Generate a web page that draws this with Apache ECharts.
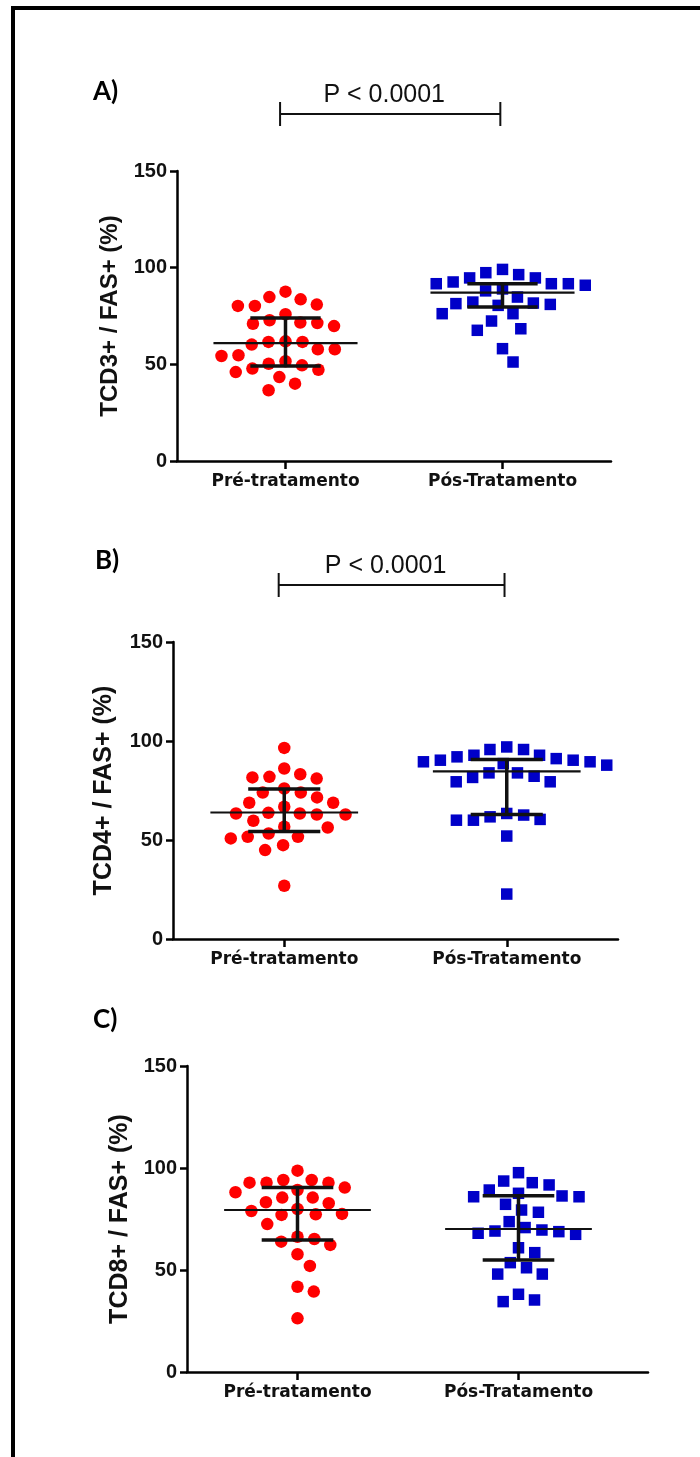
<!DOCTYPE html>
<html>
<head>
<meta charset="utf-8">
<script src="https://cdn.jsdelivr.net/npm/echarts@6/dist/echarts.min.js"></script>
<style>
  html, body { margin: 0; padding: 0; background: #fff; }
  #main { width: 700px; height: 1457px; }
</style>
</head>
<body>
<div id="main"></div>
<script>
// categorias e textos
const groupLabels = ['Pré-tratamento', 'Pós-Tratamento'];
const yTicks = [0, 50, 100, 150];
const yNames = ['TCD3+ / FAS+ (%)', 'TCD4+ / FAS+ (%)', 'TCD8+ / FAS+ (%)'];
const panelLetters = ['A)', 'B)', 'C)'];
const pValues = ['P < 0.0001', 'P < 0.0001', null];

// valores (%)
const preA = [84.8, 80.9, 80.2, 80.2, 83.6, 87.6, 75.9, 71.4, 71.0, 69.8, 71.6, 72.8, 61.6, 60.2, 57.8,
  57.8, 61.6, 61.9, 54.3, 50.3, 47.8, 43.4, 46.0, 47.2, 49.5, 51.6, 54.7, 36.6, 40.0];
const postA = [94.7, 91.7, 90.9, 99.1, 96.4, 97.4, 91.7, 91.7, 92.6, 94.7, 81.7, 81.0, 76.2, 76.2, 68.4,
  67.6, 72.4, 81.4, 82.2, 58.1, 51.2, 84.8, 80.5, 89.0, 88.0];
const preB = [96.5, 86.1, 83.2, 81.6, 81.0, 81.9, 74.0, 71.5, 68.8, 76.0, 66.8, 68.8, 74.0, 62.9, 59.7,
  63.4, 62.9, 63.4, 63.7, 53.3, 51.6, 56.3, 56.7, 50.8, 51.6, 47.4, 44.9, 26.9];
const postB = [95.7, 92.8, 91.1, 90.3, 89.5, 88.6, 89.5, 90.3, 92.0, 92.8, 95.7, 97.0, 87.8, 83.9, 82.2,
  79.4, 79.4, 81.6, 83.9, 62.6, 60.4, 60.0, 61.7, 60.0, 63.4, 52.0, 22.7];
const preC = [89.2, 94.1, 85.5, 92.8, 92.8, 92.8, 94.1, 98.7, 90.4, 88.1, 85.5, 82.7, 83.2, 78.9, 77.3,
  77.0, 77.5, 79.9, 72.5, 66.3, 63.9, 62.3, 65.2, 57.7, 52.0, 41.8, 39.4, 26.3];
const postC = [87.6, 85.9, 93.6, 91.7, 97.7, 89.2, 92.8, 85.9, 86.3, 82.2, 78.3, 79.4, 70.8, 69.1, 68.0,
  67.5, 68.8, 69.6, 73.7, 58.5, 60.9, 53.6, 51.1, 48.0, 48.0, 38.1, 34.5, 35.3];

// mediana e intervalo interquartil [pré, pós]
const medianA = [61.0, 87.1], q1A = [49.1, 79.7], q3A = [74.0, 91.7];
const medianB = [63.9, 84.7], q1B = [54.3, 62.9], q3B = [75.7, 90.6];
const medianC = [79.4, 70.1], q1C = [64.7, 54.9], q3C = [90.5, 86.4];

const panels = [
  { pre: preA, post: postA, med: medianA, q1: q1A, q3: q3A },
  { pre: preB, post: postB, med: medianB, q1: q1B, q3: q3B },
  { pre: preC, post: postC, med: medianC, q1: q1C, q3: q3C }
];

// layout
const grids = [
  { left: 177, top: 171, width: 434, height: 290, xMax: 2.5, letter: [93, 93], nameGap: 54, nameSize: 24 },
  { left: 173, top: 642, width: 445, height: 297, xMax: 2.5, letter: [95, 562], nameGap: 56, nameSize: 25 },
  { left: 187, top: 1066, width: 461, height: 306, xMax: 2.586, letter: [93, 1021], nameGap: 54, nameSize: 25 }
];
const xMin = 0.5;

// beeswarm simples para espalhar os pontos na horizontal (em pixels)
function swarm(values, pxPerUnit, d) {
  const order = values.map((v, i) => i).sort((a, b) => values[b] - values[a]);
  const placed = [];
  const off = new Array(values.length);
  order.forEach((i, n) => {
    const y = values[i] * pxPerUnit;
    const forb = [];
    placed.forEach(p => {
      const dy = Math.abs(p.y - y);
      if (dy < d) {
        const dx = Math.sqrt(d * d - dy * dy);
        forb.push([p.x - dx, p.x + dx]);
      }
    });
    const cands = [0];
    forb.forEach(f => cands.push(f[0], f[1]));
    const sign = n % 2 ? 1 : -1;
    cands.sort((a, b) => Math.abs(a) - Math.abs(b) || (a - b) * sign);
    const x = cands.find(c => forb.every(f => c <= f[0] + 1e-6 || c >= f[1] - 1e-6));
    placed.push({ x: x, y: y });
    off[i] = x;
  });
  return off;
}

const series = [];
const xAxes = [];
const yAxes = [];
const echGrids = [];
const graphics = [];

panels.forEach((p, k) => {
  const g = grids[k];
  const unitPx = g.width / (g.xMax - xMin);
  const yPx = g.height / 150;
  echGrids.push({ left: g.left, top: g.top, width: g.width, height: g.height });
  xAxes.push({
    gridIndex: k, type: 'value', min: xMin, max: g.xMax,
    axisLine: { onZero: false, lineStyle: { color: '#000', width: 2.5 } },
    axisTick: { customValues: [1, 2], length: 8, lineStyle: { color: '#000', width: 2.5 } },
    axisLabel: {
      customValues: [1, 2], margin: 12,
      formatter: v => groupLabels[Math.round(v) - 1],
      color: '#111', fontFamily: 'DejaVu Sans', fontWeight: 'bold', fontSize: 17
    },
    splitLine: { show: false }
  });
  yAxes.push({
    gridIndex: k, type: 'value', min: yTicks[0], max: yTicks[yTicks.length - 1], interval: 50,
    name: yNames[k], nameLocation: 'middle', nameGap: g.nameGap, nameRotate: 90,
    nameTextStyle: { color: '#111', fontFamily: 'Liberation Sans', fontWeight: 'bold', fontSize: g.nameSize },
    axisLine: { show: true, onZero: false, lineStyle: { color: '#000', width: 2.5 } },
    axisTick: { show: true, length: 7, lineStyle: { color: '#000', width: 2.5 } },
    axisLabel: { margin: 10, color: '#111', fontFamily: 'Liberation Sans', fontWeight: 'bold', fontSize: 20 },
    splitLine: { show: false }
  });

  [[p.pre, 'circle', '#ff0000', 12.5], [p.post, 'rect', '#0000c8', 11.5]].forEach((s, gi) => {
    const off = swarm(s[0], yPx, 17);
    series.push({
      type: 'scatter', xAxisIndex: k, yAxisIndex: k,
      symbol: s[1], symbolSize: s[3],
      itemStyle: { color: s[2], opacity: 1 },
      data: s[0].map((v, i) => [gi + 1 + off[i] / unitPx, v]),
      z: 2
    });
  });

  // mediana + IIQ
  series.push({
    type: 'custom', xAxisIndex: k, yAxisIndex: k, z: 5,
    data: [0, 1].map(i => [i + 1, p.med[i], p.q1[i], p.q3[i]]),
    encode: { x: 0, y: [1, 2, 3] },
    renderItem: (params, api) => {
      const x = api.value(0);
      const m = api.value(1), lo = api.value(2), hi = api.value(3);
      const ln = (a, b, w) => ({
        type: 'line',
        shape: { x1: a[0], y1: a[1], x2: b[0], y2: b[1] },
        style: { stroke: '#111', lineWidth: w }
      });
      return {
        type: 'group',
        children: [
          ln(api.coord([x - 0.332, m]), api.coord([x + 0.332, m]), 2.2),
          ln(api.coord([x - 0.162, lo]), api.coord([x + 0.162, lo]), 3.5),
          ln(api.coord([x - 0.162, hi]), api.coord([x + 0.162, hi]), 3.5),
          ln(api.coord([x, lo]), api.coord([x, hi]), 3.5)
        ]
      };
    }
  });

  // barra de significância
  if (pValues[k]) {
    series.push({
      type: 'custom', xAxisIndex: k, yAxisIndex: k, z: 5, clip: false, silent: true,
      data: [[0.975, 1.99]],
      renderItem: (params, api) => {
        const a = api.coord([api.value(0), 150]);
        const b = api.coord([api.value(1), 150]);
        const y = a[1] - 57;
        const st = { stroke: '#111', lineWidth: 2 };
        return {
          type: 'group',
          children: [
            { type: 'line', shape: { x1: a[0], y1: y, x2: b[0], y2: y }, style: st },
            { type: 'line', shape: { x1: a[0], y1: y - 12, x2: a[0], y2: y + 12 }, style: st },
            { type: 'line', shape: { x1: b[0], y1: y - 12, x2: b[0], y2: y + 12 }, style: st },
            {
              type: 'text',
              style: {
                text: pValues[k], x: (a[0] + b[0]) / 2 - 6, y: y - 19,
                align: 'center', verticalAlign: 'middle',
                font: '25px "Liberation Sans"', fill: '#111'
              }
            }
          ]
        };
      }
    });
  }

  graphics.push({
    type: 'text', left: g.letter[0], top: g.letter[1] - 14,
    style: { text: panelLetters[k], font: 'bold 26px Lato', fill: '#000' }
  });
});

// moldura (topo e esquerda)
graphics.push({ type: 'line', shape: { x1: 11, y1: 8, x2: 700, y2: 8 }, style: { stroke: '#000', lineWidth: 4 } });
graphics.push({ type: 'line', shape: { x1: 13, y1: 6, x2: 13, y2: 1457 }, style: { stroke: '#000', lineWidth: 4 } });

const chart = echarts.init(document.getElementById('main'));
chart.setOption({
  animation: false,
  backgroundColor: '#fff',
  grid: echGrids,
  xAxis: xAxes,
  yAxis: yAxes,
  series: series,
  graphic: graphics
});
</script>
</body>
</html>
